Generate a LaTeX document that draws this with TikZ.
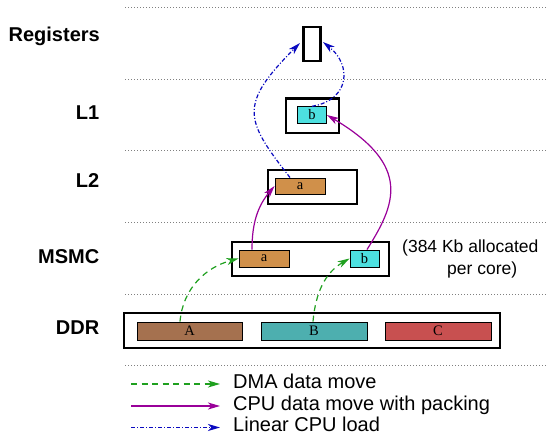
\documentclass[tikz,border=0pt]{standalone}
\usepackage{fontspec}
\setmainfont{Liberation Sans}
\newfontfamily\serifA{Liberation Serif}
\usetikzlibrary{arrows.meta}
\definecolor{dmagreen}{HTML}{1FA01F}
\definecolor{cpupurple}{HTML}{990099}
\definecolor{loadblue}{HTML}{0A0AC0}
\definecolor{cola}{HTML}{D0904A}
\definecolor{colb}{HTML}{4DE0E0}
\definecolor{colA}{HTML}{A5714F}
\definecolor{colB}{HTML}{4DAFAF}
\definecolor{colC}{HTML}{C85050}
\begin{document}
\begin{tikzpicture}[x=1pt,y=1pt,
  lvl/.style={font=\bfseries\fontsize{20}{22}\selectfont, anchor=base east, inner sep=0pt},
  sepline/.style={gray, dotted, line width=1pt},
  membox/.style={draw=black, line width=2.4pt, inner sep=0pt, fill=white},
  blk/.style={draw=black, line width=0.9pt, inner sep=0pt, font=\serifA\fontsize{14.5}{15}\selectfont},
  tipS/.style={-{Stealth[length=12pt,width=7pt,inset=3.5pt]}},
  dma/.style={tipS, draw=dmagreen, line width=1.2pt, dash pattern=on 6pt off 4.5pt},
  cpu/.style={tipS, draw=cpupurple, line width=1.2pt},
  load/.style={tipS, draw=loadblue, line width=1.2pt, dash pattern=on 4pt off 2pt on 1pt off 2pt},
  legtext/.style={anchor=base west, inner sep=0pt, font=\fontsize{20}{22}\selectfont},
  note/.style={anchor=base west, inner sep=0pt, font=\fontsize{17.5}{19}\selectfont}]
\useasboundingbox (0,0) rectangle (547,-435);

% separators
\foreach \yy/\nm in {8/s0,80/s1,151/s2,223/s3,295/s4,366/s5}{
  \coordinate (\nm a) at (125,-\yy);
  \coordinate (\nm b) at (547,-\yy);
  \draw[sepline] (\nm a) -- (\nm b);
}

% level labels
\node[lvl] (tReg)  at (100,-41.7)  {Registers};
\node[lvl] (tL1)   at (99.5,-119.3) {L1};
\node[lvl] (tL2)   at (99.5,-187.3) {L2};
\node[lvl] (tMSMC) at (99.5,-263.3) {MSMC};
\node[lvl] (tDDR)  at (99.5,-334.3) {DDR};

% memory boxes
\node[membox, minimum width=17pt, minimum height=34.5pt] (reg) at (312,-44) {};
\node[membox, minimum width=52.5pt, minimum height=34.5pt] (l1) at (312.5,-115.7) {};
\node[membox, minimum width=88.5pt, minimum height=34pt] (l2) at (312.5,-187) {};
\node[membox, minimum width=156.5pt, minimum height=34pt] (msmc) at (310.5,-259) {};
\node[membox, minimum width=375.5pt, minimum height=35pt] (ddr) at (312,-330.5) {};

% data blocks
\node[blk, fill=colb, minimum width=29pt, minimum height=16.5pt] (l1b) at (312,-115) {b};
\node[blk, fill=cola, minimum width=50pt, minimum height=16pt] (l2a) at (300,-186) {a};
\node[blk, fill=cola, minimum width=50pt, minimum height=17pt] (ma) at (264,-258.5) {a};
\node[blk, fill=colb, minimum width=29pt, minimum height=17pt] (mb) at (364.5,-258.5) {b};
\node[blk, fill=colA, minimum width=105pt, minimum height=18pt] (bA) at (189.5,-331) {A};
\node[blk, fill=colB, minimum width=106pt, minimum height=18pt] (bB) at (314,-331) {B};
\node[blk, fill=colC, minimum width=106pt, minimum height=18pt] (bC) at (438,-331) {C};

% annotation
\node[note] (n1) at (402,-252.5) {(384 Kb allocated};
\node[note] (n2) at (447,-274.5) {per core)};

% DMA moves
\draw[dma] ([xshift=-9.5pt]bA.north) to[out=85,in=195] (ma.west);
\draw[dma] ([xshift=-1pt]bB.north) to[out=85,in=210] (mb.west);

% CPU moves with packing
\draw[cpu] ([xshift=-12pt]ma.north) to[out=90,in=230] (l2a.west);
\draw[cpu] ([xshift=2.5pt]mb.north) .. controls (395,-205) and (413,-166) .. (l1b.east);

% linear CPU loads
\coordinate (regL) at (300,-43);
\coordinate (regR) at (323,-42);
\draw[load] ([xshift=-10pt]l2a.north) .. controls (245,-120) and (238,-105) .. (regL);
\draw[load] (l1b.north) .. controls (350,-100) and (352,-65) .. (regR);

% legend
\coordinate (g1s) at (131,-384); \coordinate (g1e) at (220,-384);
\coordinate (g2s) at (131,-406); \coordinate (g2e) at (220,-406);
\coordinate (g3s) at (131,-427.5); \coordinate (g3e) at (220,-427.5);
\draw[dma] (g1s) -- (g1e);
\draw[cpu] (g2s) -- (g2e);
\draw[load] (g3s) -- (g3e);
\node[legtext] (lg1) at (233,-389) {DMA data move};
\node[legtext] (lg2) at (233,-411) {CPU data move with packing};
\node[legtext] (lg3) at (233,-431.5) {Linear CPU load};
\end{tikzpicture}
\end{document}
